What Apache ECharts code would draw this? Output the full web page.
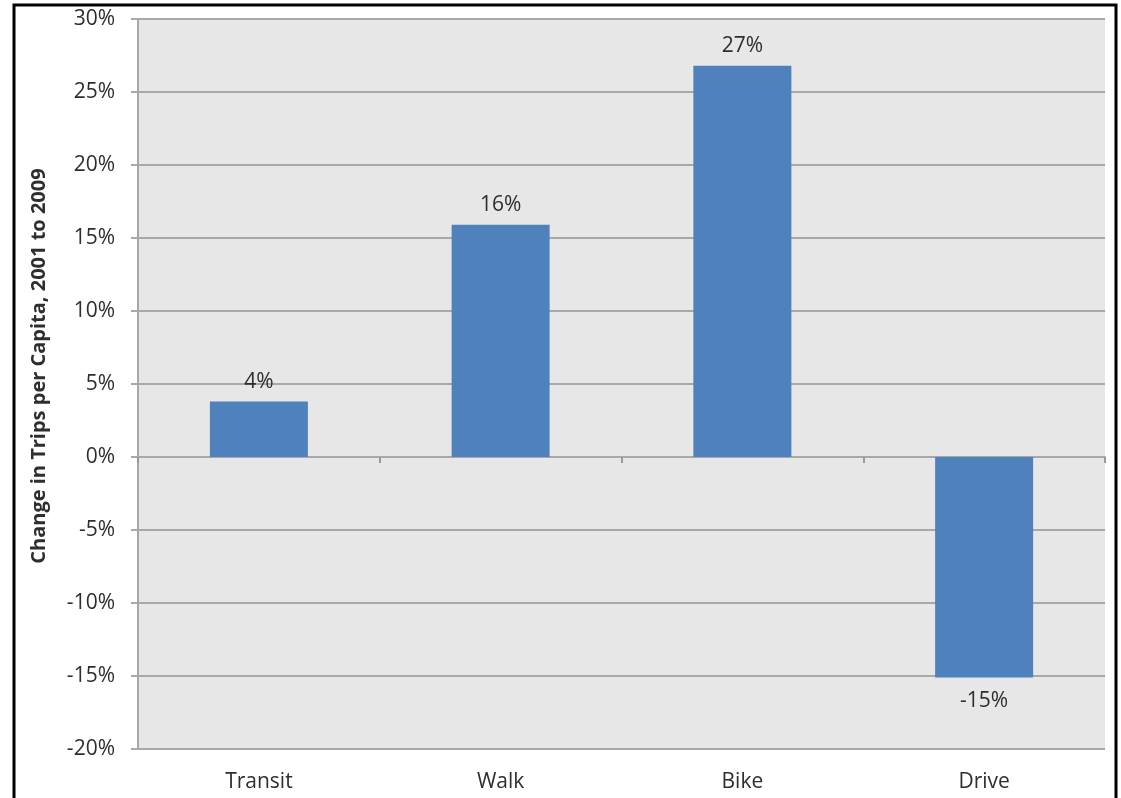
<!DOCTYPE html>
<html>
<head>
<meta charset="utf-8">
<script src="https://cdn.jsdelivr.net/npm/echarts@6/dist/echarts.min.js"></script>
<style>
  html, body { margin: 0; padding: 0; background: #fff; }
  #chart { width: 1121px; height: 798px; }
</style>
</head>
<body>
<div id="chart"></div>
<script>
// data
const categories = ["Transit", "Walk", "Bike", "Drive"];
const changeValues = [3.8, 15.9, 26.8, -15.1];
const yTicks = { min: -20, max: 30, step: 5 };

const chart = echarts.init(document.getElementById("chart"));

const textColor = "#2e2e2e";
const gridColor = "#a8a8a8";
const font = "'Open Sans', 'Noto Sans', sans-serif";

chart.setOption({
  backgroundColor: "#fff",
  animation: false,
  graphic: [
    {
      type: "rect",
      left: 138, top: 19,
      shape: { width: 967, height: 730 },
      style: { fill: "#e7e7e7" },
      z: -10,
    },
    {
      type: "rect",
      shape: { x: 14, y: 5, width: 1102, height: 820 },
      style: { fill: "none", stroke: "#000", lineWidth: 3 },
      z: 100,
    },
  ],
  grid: { left: 138, right: 16, top: 19, bottom: 49 },
  xAxis: [
    {
      // axis crossing at 0, ticks between categories
      type: "category",
      data: categories,
      axisLine: { onZero: true, lineStyle: { color: gridColor, width: 2 } },
      axisTick: { show: true, length: 6, lineStyle: { color: "#999", width: 2 } },
      axisLabel: { show: false },
    },
    {
      // labels at the bottom
      type: "category",
      data: categories,
      position: "bottom",
      axisLine: { show: false, onZero: false },
      axisTick: { show: false },
      axisLabel: { margin: 23, fontSize: 21, color: textColor, fontFamily: font },
    },
  ],
  yAxis: {
    type: "value",
    min: yTicks.min,
    max: yTicks.max,
    interval: yTicks.step,
    name: "Change in Trips per Capita, 2001 to 2009",
    nameLocation: "middle",
    nameGap: 89,
    nameTextStyle: {
      fontSize: 20, fontWeight: "bold", color: textColor, fontFamily: font,
      padding: [0, 0, 0, 36],
    },
    axisLine: { show: true, lineStyle: { color: gridColor, width: 2 } },
    axisTick: { show: true, length: 7, lineStyle: { color: gridColor, width: 2 } },
    axisLabel: { margin: 23, fontSize: 21, color: textColor, fontFamily: font, formatter: "{value}%" },
    splitLine: { lineStyle: { color: gridColor, width: 2 } },
  },
  series: [
    {
      type: "bar",
      xAxisIndex: 0,
      barWidth: 98,
      data: changeValues.map((v) =>
        v < 0 ? { value: v, label: { position: "bottom", distance: 13 } } : v
      ),
      itemStyle: { color: "#4f81bd" },
      label: {
        show: true,
        position: "top",
        distance: 9,
        fontSize: 21,
        color: textColor,
        fontFamily: font,
        formatter: (p) => Math.round(p.value) + "%",
      },
    },
  ],
});
</script>
</body>
</html>
